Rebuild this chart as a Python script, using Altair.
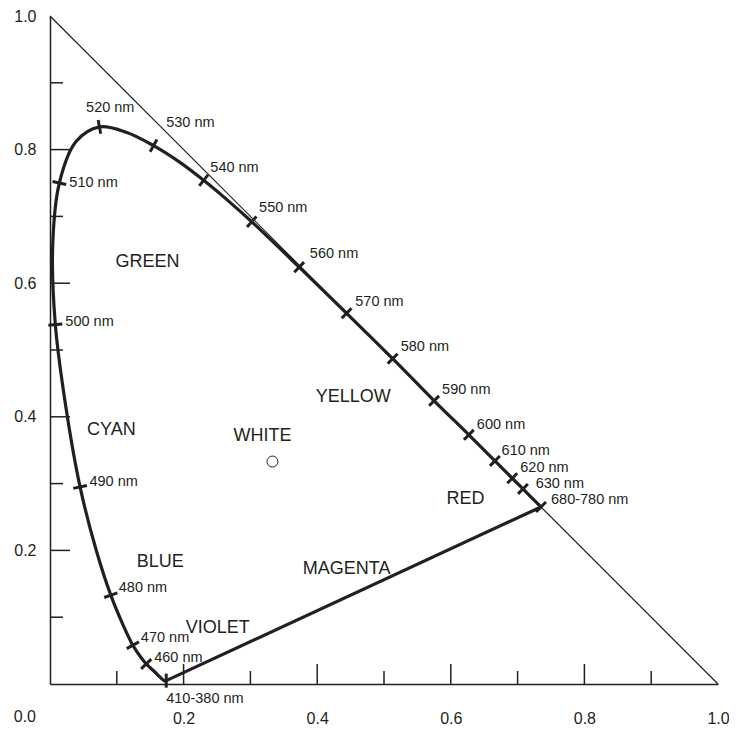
import math
import altair as alt
import pandas as pd

# ---- data ----
WAVELENGTH = [380, 420, 440, 450, 460, 465, 470, 475, 480, 485, 490, 495, 500, 505,
              510, 515, 520, 525, 530, 535, 540, 545, 550, 555, 560, 570, 580, 590,
              600, 610, 620, 630, 640, 680]
LOCUS_X = [0.174, 0.171, 0.164, 0.157, 0.144, 0.136, 0.124, 0.110, 0.091, 0.069, 0.045,
           0.024, 0.008, 0.004, 0.014, 0.039, 0.074, 0.114, 0.155, 0.193, 0.230, 0.266,
           0.302, 0.337, 0.373, 0.444, 0.513, 0.575, 0.627, 0.666, 0.692, 0.708, 0.719,
           0.735]
LOCUS_Y = [0.005, 0.005, 0.011, 0.018, 0.030, 0.040, 0.058, 0.087, 0.133, 0.201, 0.295,
           0.413, 0.538, 0.655, 0.750, 0.812, 0.834, 0.826, 0.806, 0.782, 0.754, 0.724,
           0.692, 0.659, 0.624, 0.555, 0.487, 0.424, 0.373, 0.334, 0.308, 0.292, 0.281,
           0.265]
TICKED_WL = [380, 460, 470, 480, 490, 500, 510, 520, 530, 540, 550, 560, 570, 580, 590,
             600, 610, 620, 630, 680]

NM_LABELS = ["410-380 nm", "460 nm", "470 nm", "480 nm", "490 nm", "500 nm", "510 nm",
             "520 nm", "530 nm", "540 nm", "550 nm", "560 nm", "570 nm", "580 nm",
             "590 nm", "600 nm", "610 nm", "620 nm", "630 nm", "680-780 nm"]
NM_LABEL_X = [0.174, 0.156, 0.136, 0.103, 0.059, 0.023, 0.029, 0.054, 0.174, 0.240,
              0.313, 0.389, 0.457, 0.525, 0.587, 0.639, 0.676, 0.704, 0.727, 0.750]
NM_LABEL_Y = [-0.023, 0.039, 0.069, 0.143, 0.303, 0.542, 0.750, 0.862, 0.840, 0.773,
              0.712, 0.644, 0.572, 0.505, 0.440, 0.387, 0.349, 0.323, 0.299, 0.275]

REGION_LABELS = ["GREEN", "YELLOW", "CYAN", "WHITE", "RED", "BLUE", "VIOLET", "MAGENTA"]
REGION_X = [0.146, 0.454, 0.092, 0.318, 0.622, 0.165, 0.251, 0.444]
REGION_Y = [0.632, 0.430, 0.380, 0.371, 0.277, 0.182, 0.084, 0.172]

WHITE_X = [0.333]
WHITE_Y = [0.333]

TRIANGLE_X = [0.0, 1.0]
TRIANGLE_Y = [1.0, 0.0]

AXIS_LABELS = [0.2, 0.4, 0.6, 0.8, 1.0]
AXIS_TICKS = [0.1, 0.2, 0.3, 0.4, 0.5, 0.6, 0.7, 0.8, 0.9]
MAJOR_TICKS = [0.2, 0.4, 0.6, 0.8]
ORIGIN_LABEL = ["0.0"]

# ---- styling ----
INK = "#231f20"
FONT = "Liberation Sans"
PLOT = 668
MAJOR_LEN = 20 / PLOT
MINOR_LEN = 13 / PLOT

locus = pd.DataFrame({"wl": WAVELENGTH, "x": LOCUS_X, "y": LOCUS_Y,
                      "order": list(range(len(WAVELENGTH)))})

# tick orientation perpendicular to the locus
angles = []
for wl in TICKED_WL:
    i = WAVELENGTH.index(wl)
    p = max(i - 1, 0)
    n = min(i + 1, len(WAVELENGTH) - 1)
    dx = LOCUS_X[n] - LOCUS_X[p]
    dy = LOCUS_Y[n] - LOCUS_Y[p]
    a = math.degrees(math.atan2(-dy, dx)) + 90
    angles.append(a % 180)
ticks_df = pd.DataFrame({
    "x": [LOCUS_X[WAVELENGTH.index(w)] for w in TICKED_WL],
    "y": [LOCUS_Y[WAVELENGTH.index(w)] for w in TICKED_WL],
    "angle": angles,
})

purple = locus.iloc[[0, len(locus) - 1]]

xscale = alt.Scale(domain=[0, 1], nice=False, zero=False)
yscale = alt.Scale(domain=[0, 1], nice=False, zero=False)

common_axis = dict(ticks=False, grid=False, domainColor=INK, domainWidth=1.5,
                   labelFont=FONT, labelFontSize=16, labelColor=INK, title=None,
                   labelFlush=False, labelOverlap=False, format=".1f",
                   values=AXIS_LABELS)
xaxis = alt.Axis(labelPadding=26, **common_axis)
yaxis = alt.Axis(labelPadding=14, **common_axis)


def X(field):
    return alt.X(field, scale=xscale, axis=xaxis, title=None)


def Y(field):
    return alt.Y(field, scale=yscale, axis=yaxis, title=None)


hyp = alt.Chart(pd.DataFrame({"x": TRIANGLE_X, "y": TRIANGLE_Y})).mark_line(
    color=INK, strokeWidth=1.2).encode(x=X("x:Q"), y=Y("y:Q"))

locus_line = alt.Chart(locus).mark_line(
    color=INK, strokeWidth=3.2, interpolate="catmull-rom").encode(
    x=X("x:Q"), y=Y("y:Q"), order="order:Q")

purple_line = alt.Chart(purple).mark_line(color=INK, strokeWidth=3.2).encode(
    x=X("x:Q"), y=Y("y:Q"), order="order:Q")

locus_ticks = alt.Chart(ticks_df).mark_point(
    shape="stroke", size=196, strokeWidth=3, color=INK, opacity=1,
    filled=False).encode(x=X("x:Q"), y=Y("y:Q"),
                         angle=alt.Angle("angle:Q", scale=None))

white = alt.Chart(pd.DataFrame({"x": WHITE_X, "y": WHITE_Y})).mark_point(
    shape="circle", size=120, strokeWidth=1, color=INK, opacity=1,
    filled=False).encode(x=X("x:Q"), y=Y("y:Q"))

nm_text = alt.Chart(pd.DataFrame({"x": NM_LABEL_X, "y": NM_LABEL_Y,
                                  "t": NM_LABELS})).mark_text(
    align="left", baseline="middle", font=FONT, fontSize=14.5, color=INK).encode(
    x=X("x:Q"), y=Y("y:Q"), text="t:N")

region_text = alt.Chart(pd.DataFrame({"x": REGION_X, "y": REGION_Y,
                                      "t": REGION_LABELS})).mark_text(
    align="center", baseline="middle", font=FONT, fontSize=18, color=INK).encode(
    x=X("x:Q"), y=Y("y:Q"), text="t:N")

tick_df = pd.DataFrame({"v": AXIS_TICKS,
                        "len": [MAJOR_LEN if v in MAJOR_TICKS else MINOR_LEN
                                for v in AXIS_TICKS],
                        "zero": [0.0] * len(AXIS_TICKS)})
xticks = alt.Chart(tick_df).mark_rule(color=INK, strokeWidth=1.5).encode(
    x=X("v:Q"), y=Y("zero:Q"), y2="len:Q")
yticks = alt.Chart(tick_df).mark_rule(color=INK, strokeWidth=1.5).encode(
    y=Y("v:Q"), x=X("zero:Q"), x2="len:Q")

origin = alt.Chart(pd.DataFrame({"x": [0.0], "y": [0.0], "t": ORIGIN_LABEL})).mark_text(
    align="right", baseline="middle", dx=-14, dy=33, font=FONT, fontSize=16,
    color=INK).encode(x=X("x:Q"), y=Y("y:Q"), text="t:N")

chart = alt.layer(
    hyp, xticks, yticks, purple_line, locus_line, locus_ticks, white,
    nm_text, region_text, origin
).properties(
    width=PLOT, height=PLOT,
    autosize=alt.AutoSizeParams(type="none"),
    padding={"left": 42, "top": 8, "right": 11, "bottom": 41},
).configure_view(stroke=None)

chart.save("out.html", embed_options={"renderer": "svg", "actions": False})
